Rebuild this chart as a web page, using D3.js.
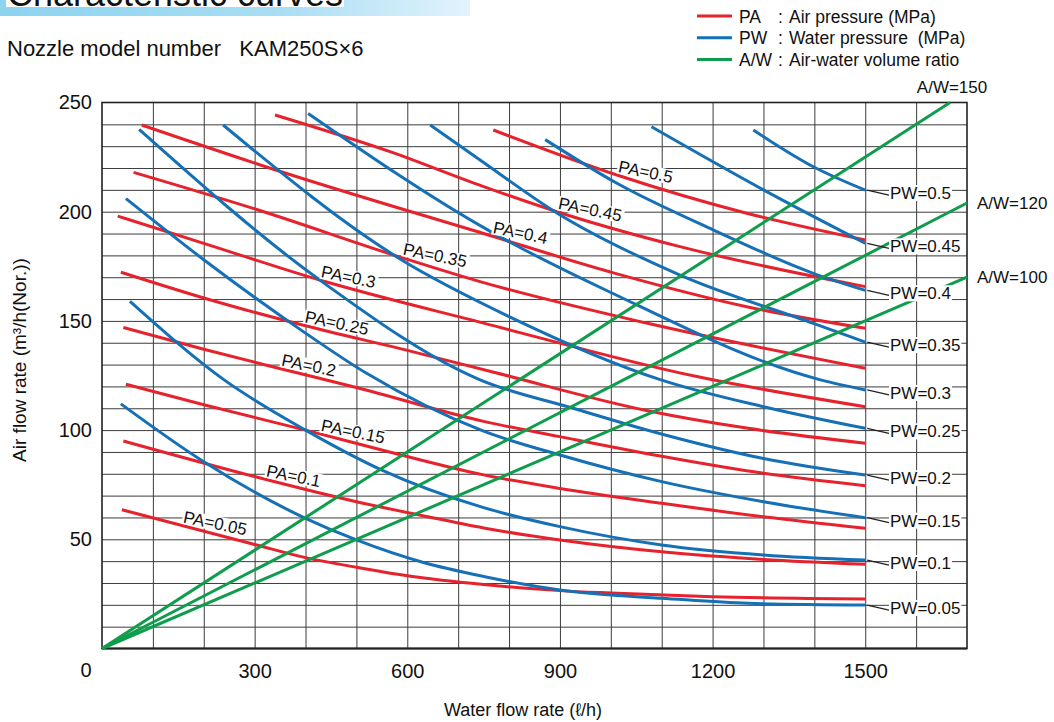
<!DOCTYPE html>
<html>
<head>
<meta charset="utf-8">
<script src="https://cdn.jsdelivr.net/npm/d3@7"></script>
<style>
  body { margin: 0; background: #fff; }
  svg text { font-family: "Liberation Sans", Arial, sans-serif; fill: #111; white-space: pre; }
</style>
</head>
<body>
<svg id="chart" width="1054" height="722"></svg>
<script>
// ---- data ----
// water flow rate (l/h), air flow rate (m3/h Nor.)
const paLevels = [0.05, 0.1, 0.15, 0.2, 0.25, 0.3, 0.35, 0.4, 0.45, 0.5];
const paCurves = [
  [[39, 63.5], [300, 47.6], [400, 41.6], [500, 37.2], [600, 33.3], [750, 29.3], [900, 26.5], [1000, 25.4], [1200, 23.7], [1500, 22.7]],
  [[42, 95], [300, 78.7], [500, 67.2], [630, 60.8], [750, 55.2], [900, 49.7], [1100, 44.3], [1300, 40.8], [1500, 38.6]],
  [[47, 121], [200, 111.6], [400, 100], [565, 90], [750, 79.5], [900, 73.3], [1100, 66.5], [1300, 60.3], [1500, 55]],
  [[42, 147], [200, 137], [353, 128], [500, 119.5], [750, 104], [900, 97], [1100, 88], [1300, 80.2], [1500, 74.5]],
  [[37, 172.3], [200, 160.5], [396, 148], [600, 136.5], [770, 126.5], [1070, 109], [1270, 100.8], [1500, 94]],
  [[31, 198], [200, 185.5], [428, 168.7], [750, 149], [1169, 124.5], [1500, 110.7]],
  [[62, 218], [304, 201], [589, 179], [743, 168], [1070, 149], [1500, 128.3]],
  [[78, 239.7], [343, 219], [750, 190], [1005, 172], [1267, 156.5], [1500, 146.6]],
  [[340, 244.3], [566, 227.5], [750, 211.5], [894, 200], [1136, 184], [1500, 165.7]],
  [[769, 237.4], [1012, 216.8], [1267, 199.3], [1500, 187]]
];
const paLabelAt = [157, 320, 428, 350, 396, 428, 589, 766, 894, 1012];

const pwLevels = [0.05, 0.1, 0.15, 0.2, 0.25, 0.3, 0.35, 0.4, 0.45, 0.5];
const pwCurves = [
  [[37, 112], [200, 85.5], [400, 59.6], [500, 49.7], [630, 39.5], [750, 33], [900, 26.8], [1000, 24.5], [1100, 23], [1270, 20.7], [1500, 19.9]],
  [[55, 159], [240, 123], [400, 100], [550, 81.7], [750, 64.5], [900, 55.8], [1100, 47.4], [1300, 42.8], [1500, 40.5]],
  [[47, 206], [200, 178], [390, 146], [520, 126], [750, 99.5], [900, 88.6], [1100, 76.4], [1300, 67.2], [1500, 59.9]],
  [[73, 237.7], [428, 168.7], [743, 123], [926, 110], [1103, 98], [1300, 87], [1500, 79.4]],
  [[238, 239.7], [589, 177.9], [800, 152], [1100, 122.9], [1300, 110.7], [1500, 100.8]],
  [[405, 245], [763, 191], [1000, 163], [1412, 123], [1500, 118.4]],
  [[645, 239.7], [743, 223.7], [890, 200], [1136, 171], [1398, 148.9], [1500, 140.3]],
  [[871, 233], [1012, 213], [1202, 191.6], [1398, 171.8], [1500, 164]],
  [[1080, 238.9], [1300, 210], [1500, 185.5]],
  [[1280, 237.4], [1398, 220.6], [1500, 209.9]]
];

const awRatios = [100, 120, 150];

const xTickLabels = [300, 600, 900, 1200, 1500];
const yTickLabels = [50, 100, 150, 200, 250];

const legendCodes = ["PA", "PW", "A/W"];
const legendText = ["Air pressure (MPa)", "Water pressure  (MPa)", "Air-water volume ratio"];

const RED = "#e6222d", BLUE = "#1570b6", GREEN = "#0f9c4c";

// ---- drawing ----
const svg = d3.select("#chart");
const x = d3.scaleLinear().domain([0, 1700]).range([102, 967]);
const y = d3.scaleLinear().domain([0, 250]).range([648.5, 102.5]);
const plotH = y(0) - y(250);
const plotW = x(1700) - x(0);

// header bar (title is cut by the top edge, as in the source)
const grad = svg.append("defs").append("linearGradient").attr("id", "hdr");
grad.append("stop").attr("offset", "0%").attr("stop-color", "#8cd3f0");
grad.append("stop").attr("offset", "60%").attr("stop-color", "#a9def4");
grad.append("stop").attr("offset", "100%").attr("stop-color", "#e2f3fc");
svg.append("rect").attr("x", 0).attr("y", 0).attr("width", 470).attr("height", 16).attr("fill", "url(#hdr)");
svg.append("rect").attr("x", 6).attr("y", 0).attr("width", 338).attr("height", 7).attr("fill", "#fff");
svg.append("text").attr("x", 7).attr("y", 6).attr("font-size", 36).text("Characteristic curves");

svg.append("text").attr("x", 7).attr("y", 56).attr("font-size", 22)
  .text("Nozzle model number   KAM250S\u00d76");

// legend
legendCodes.forEach(function (code, i) {
  var base = 22.5 + i * 21.7;
  var col = [RED, BLUE, GREEN][i];
  svg.append("line").attr("x1", 697).attr("x2", 732)
    .attr("y1", base - 6.5).attr("y2", base - 6.5)
    .attr("stroke", col).attr("stroke-width", 3);
  svg.append("text").attr("x", 739).attr("y", base).attr("font-size", 17.5).text(code);
  svg.append("text").attr("x", 778).attr("y", base).attr("font-size", 17.5).text(":");
  svg.append("text").attr("x", 789).attr("y", base).attr("font-size", 17.5).text(legendText[i]);
});

// grid
svg.append("g")
  .attr("transform", `translate(0,${y(0)})`)
  .call(d3.axisBottom(x).tickValues(d3.range(100, 1700, 100)).tickSize(-plotH).tickFormat(""))
  .call(g => g.select(".domain").remove())
  .call(g => g.selectAll("line").attr("stroke", "#3c3c3c").attr("stroke-width", 1));

svg.append("g")
  .attr("transform", `translate(${x(0)},0)`)
  .call(d3.axisLeft(y).tickValues(d3.range(10, 250, 10)).tickSize(-plotW).tickFormat(""))
  .call(g => g.select(".domain").remove())
  .call(g => g.selectAll("line").attr("stroke", "#3c3c3c").attr("stroke-width", 1));

svg.append("rect").attr("x", x(0)).attr("y", y(250)).attr("width", plotW).attr("height", plotH)
  .attr("fill", "none").attr("stroke", "#222").attr("stroke-width", 1.6);
svg.append("line").attr("x1", x(0)).attr("x2", x(1700)).attr("y1", y(0)).attr("y2", y(0))
  .attr("stroke", "#222").attr("stroke-width", 2.2);

// tick labels
svg.append("g")
  .attr("transform", `translate(0,${y(0)})`)
  .call(d3.axisBottom(x).tickValues(xTickLabels).tickSize(0).tickPadding(15).tickFormat(d3.format("d")))
  .call(g => g.select(".domain").remove())
  .call(g => g.selectAll("text").attr("font-size", 20).attr("font-family", null).attr("fill", "#111"));

svg.append("g")
  .attr("transform", `translate(${x(0)},0)`)
  .call(d3.axisLeft(y).tickValues(yTickLabels).tickSize(0).tickPadding(10).tickFormat(d3.format("d")))
  .call(g => g.select(".domain").remove())
  .call(g => g.selectAll("text").attr("font-size", 20).attr("font-family", null).attr("fill", "#111"));

svg.append("text").attr("x", x(0) - 16).attr("y", 677).attr("font-size", 20)
  .attr("text-anchor", "middle").text("0");

// axis titles
svg.append("text").attr("x", 523).attr("y", 716).attr("font-size", 18)
  .attr("text-anchor", "middle").text("Water flow rate (\u2113/h)");
svg.append("text").attr("transform", "translate(26,360) rotate(-90)").attr("font-size", 19)
  .attr("text-anchor", "middle").text("Air flow rate (m\u00b3/h(Nor.))");

// curves
const line = d3.line().x(d => x(d[0])).y(d => y(d[1])).curve(d3.curveMonotoneX);

svg.append("g").selectAll("path").data(paCurves).join("path")
  .attr("d", line).attr("fill", "none").attr("stroke", RED).attr("stroke-width", 3);

svg.append("g").selectAll("path").data(pwCurves).join("path")
  .attr("d", line).attr("fill", "none").attr("stroke", BLUE).attr("stroke-width", 3);

const awLines = awRatios.map(function (r) {
  var endX = Math.min(1700, 250 * 1000 / r);
  return { r: r, pts: [[0, 0], [endX, r * endX / 1000]] };
});
svg.append("g").selectAll("path").data(awLines).join("path")
  .attr("d", d => d3.line().x(p => x(p[0])).y(p => y(p[1]))(d.pts))
  .attr("fill", "none").attr("stroke", GREEN).attr("stroke-width", 3);

// value on a curve at water flow X (linear between read points)
function yAt(pts, X) {
  for (var i = 1; i < pts.length; i++) {
    if (X <= pts[i][0]) {
      var t = (X - pts[i - 1][0]) / (pts[i][0] - pts[i - 1][0]);
      return pts[i - 1][1] + t * (pts[i][1] - pts[i - 1][1]);
    }
  }
  return pts[pts.length - 1][1];
}

// PA labels along red curves
paLevels.forEach(function (lv, i) {
  var X = paLabelAt[i];
  var px = x(X), py = y(yAt(paCurves[i], X));
  var g = svg.append("g").attr("transform", `translate(${px},${py}) rotate(11.5)`);
  var rect = g.append("rect").attr("fill", "#fff");
  var t = g.append("text").attr("x", 0).attr("y", -3).attr("font-size", 17).text("PA=" + lv);
  var w = t.node().getComputedTextLength();
  rect.attr("x", -1).attr("y", -16).attr("width", w + 3).attr("height", 14.5);
});

// PW labels at right end of blue curves
pwLevels.forEach(function (lv, i) {
  var pts = pwCurves[i];
  var last = pts[pts.length - 1];
  var ex = x(last[0]), ey = y(last[1]);
  var cy = ey + 3;
  svg.append("line").attr("x1", ex + 2).attr("y1", ey).attr("x2", 889).attr("y2", cy + 2)
    .attr("stroke", "#222").attr("stroke-width", 1.3);
  var rect = svg.append("rect").attr("fill", "#fff");
  var t = svg.append("text").attr("x", 890).attr("y", cy + 6).attr("font-size", 17).text("PW=" + lv);
  var w = t.node().getComputedTextLength();
  rect.attr("x", 889).attr("y", cy - 8).attr("width", w + 2).attr("height", 16);
});

// A/W labels
awLines.forEach(function (d) {
  var end = d.pts[1];
  if (end[0] < 1700) {
    svg.append("text").attr("x", x(end[0]) + 2).attr("y", y(250) - 10).attr("font-size", 17)
      .attr("text-anchor", "middle").text("A/W=" + d.r);
  } else {
    svg.append("text").attr("x", x(1700) + 10).attr("y", y(end[1]) + 6).attr("font-size", 17)
      .text("A/W=" + d.r);
  }
});
</script>
</body>
</html>
